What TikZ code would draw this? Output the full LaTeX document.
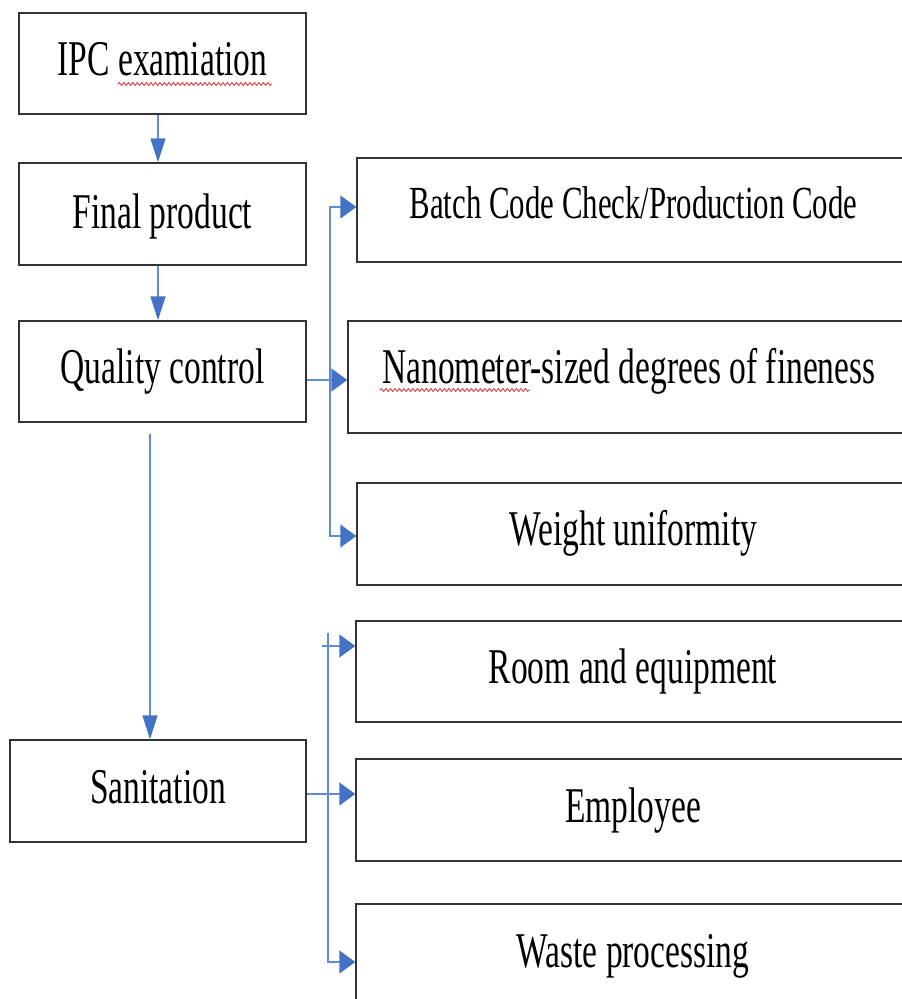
\documentclass[tikz,border=0pt]{standalone}
\usepackage{fontspec}
\setmainfont{Liberation Serif}[FakeStretch=0.67]
\usetikzlibrary{arrows.meta,decorations.pathmorphing}
\definecolor{arrowblue}{HTML}{4472C4}
\definecolor{lineblue}{HTML}{5F8BD8}
\definecolor{boxline}{HTML}{333333}
\definecolor{spellred}{HTML}{E8262A}
\begin{document}
\begin{tikzpicture}[x=1pt,y=-1pt,
  box/.style={draw=boxline, line width=1.4pt, minimum height=102pt, inner sep=0pt,
    font=\fontsize{50}{50}\selectfont, text height=34pt, text depth=10pt},
  conn/.style={draw=lineblue, line width=1.4pt},
  htip/.style={-{Triangle[length=16pt,width=23pt,color=arrowblue]}},
  hboth/.style={{Triangle[length=16pt,width=23pt,color=arrowblue]}-{Triangle[length=16pt,width=23pt,color=arrowblue]}},
  vtip/.style={-{Triangle[length=24pt,width=15pt,color=arrowblue]}},
  squiggle/.style={draw=spellred, line width=0.8pt, decorate,
    decoration={snake, amplitude=1.5pt, segment length=4.5pt}},
]
\useasboundingbox (0,0) rectangle (902,999);
\clip (0,0) rectangle (902,999);

% left column
\node[box, minimum width=287pt, minimum height=101pt] (ipc) at (162.5,63.5) {IPC examiation};
\node[box, minimum width=287pt, text height=36pt, text depth=8pt] (final) at (162.5,214) {Final product};
\node[box, minimum width=287pt, minimum height=101pt, text height=33pt, text depth=10pt] (qc) at (162.5,371.5) {Quality control};
\node[box, minimum width=296pt] (san) at (158,791) {Sanitation};

% right column
\node[box, minimum width=553pt, minimum height=104pt, font=\fontsize{46}{46}\selectfont, text height=30pt, text depth=14pt] (batch) at (633.5,210) {Batch Code Check/Production Code};
\node[box, minimum width=562pt, minimum height=112pt, text height=30pt, text depth=18pt] (nano) at (629,377) {Nanometer-sized degrees of fineness};
\node[box, minimum width=553pt, text height=33pt, text depth=11pt] (weight) at (633.5,534) {Weight uniformity};
\node[box, minimum width=554pt, minimum height=101pt] (room) at (633,671.5) {Room and equipment};
\node[box, minimum width=554pt] (emp) at (633,810) {Employee};
\node[box, minimum width=554pt] (waste) at (633,955) {Waste processing};

% spell-check marks
\draw[squiggle] (118,84) -- (272,84);
\draw[squiggle] (380,390) -- (530,390);

% vertical connectors
\draw[conn, vtip] ([xshift=-4.5pt]ipc.south) -- ([xshift=-4.5pt]final.north);
\draw[conn, vtip] ([xshift=-4.5pt]final.south) -- ([xshift=-4.5pt]qc.north);
\draw[conn, vtip] ([xshift=-12.5pt,yshift=-11pt]qc.south) -- ([xshift=-12.5pt]qc.south |- san.north);

% upper branch
\coordinate (tA) at (330,207);
\coordinate (tB) at (330,536);
\draw[conn, hboth] (tA -| batch.west) -- (tA) -- (tB) -- (tB -| weight.west);
\draw[conn, htip] ([yshift=-8.5pt]qc.east) -- ([yshift=-8.5pt]qc.east -| nano.west);

% lower branch
\coordinate (bTop) at (328,633);
\coordinate (bBot) at (328,962);
\coordinate (bStub) at (322,646);
\draw[conn, htip] (bTop) -- (bBot) -- (bBot -| waste.west);
\draw[conn, htip] (bStub) -- (bStub -| room.west);
\draw[conn, htip] ([yshift=-3pt]san.east) -- ([yshift=-3pt]san.east -| emp.west);
\end{tikzpicture}
\end{document}
